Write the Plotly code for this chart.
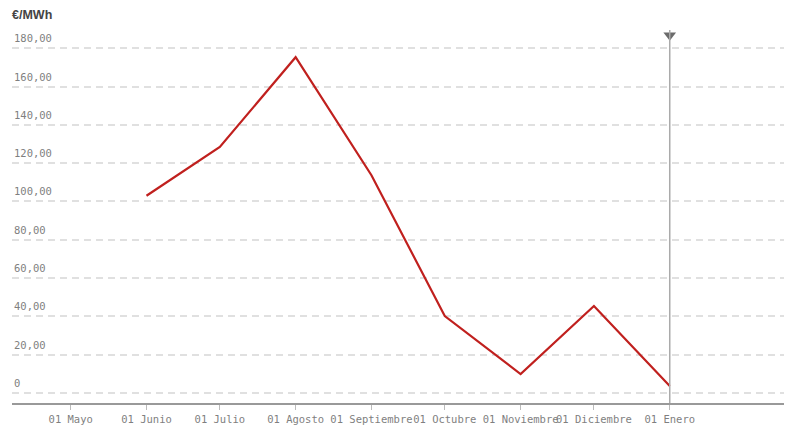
import plotly.graph_objects as go

# precio mensual (€/MWh)
fechas = ["2022-06-01", "2022-07-01", "2022-08-01", "2022-09-01",
          "2022-10-01", "2022-11-01", "2022-12-01", "2023-01-01"]
precios = [103.0, 128.5, 175.3, 113.7, 40.2, 9.9, 45.4, 3.7]

meses_vals = ["2022-05-01", "2022-06-01", "2022-07-01", "2022-08-01", "2022-09-01",
              "2022-10-01", "2022-11-01", "2022-12-01", "2023-01-01"]
meses_text = ["01 Mayo", "01 Junio", "01 Julio", "01 Agosto", "01 Septiembre",
              "01 Octubre", "01 Noviembre", "01 Diciembre", "01 Enero"]

y_vals = [0, 20, 40, 60, 80, 100, 120, 140, 160, 180]
y_text = ["0"] + [f"{v:.2f}".replace(".", ",") for v in y_vals[1:]]

marca_fecha = "2023-01-01"
y_top = 189.5

# la página añade 8px de margen al body, así que la figura se reduce
W, H = 784, 417
MONO = "DejaVu Sans Mono"

fig = go.Figure()

fig.add_trace(go.Scatter(
    x=fechas, y=precios, mode="lines",
    line=dict(color="#c0201e", width=2.2),
    hoverinfo="skip",
))

fig.add_shape(
    type="line", xref="x", yref="paper",
    x0=marca_fecha, x1=marca_fecha, y0=0, y1=1,
    line=dict(color="#aaaaaa", width=1.5),
)
fig.add_trace(go.Scatter(
    x=[marca_fecha], y=[186.8], mode="markers",
    marker=dict(symbol="triangle-down", size=11, color="#6b6b6b"),
    hoverinfo="skip",
))

# etiquetas del eje y encima de cada línea de rejilla
for v, t in zip(y_vals, y_text):
    fig.add_annotation(
        x=0, xref="paper", xanchor="left",
        y=v, yref="y", yanchor="bottom", yshift=2,
        text=t, showarrow=False,
        font=dict(family=MONO, size=10.5, color="#7f7f7f"),
    )

fig.update_layout(
    width=W, height=H,
    margin=dict(l=4, r=0, t=22, b=22),
    plot_bgcolor="white", paper_bgcolor="white",
    showlegend=False,
    font=dict(family=MONO, size=10.5, color="#7f7f7f"),
    title=dict(
        text="<b>€/MWh</b>", xref="container", yref="container",
        x=4 / W, xanchor="left", y=1 - 7 / H, yanchor="middle",
        font=dict(family="Liberation Sans", size=12.5, color="#444444"),
    ),
    xaxis=dict(
        type="date", range=["2022-04-07", "2023-02-20"],
        tickvals=meses_vals, ticktext=meses_text, tickangle=0,
        automargin=False,
        showgrid=False, zeroline=False,
        showline=True, linecolor="#999999", linewidth=2,
        ticks="outside", ticklen=5, tickcolor="#bbbbbb",
    ),
    yaxis=dict(
        range=[-5.2, y_top], automargin=False,
        tickvals=y_vals, showticklabels=False,
        showgrid=True, gridcolor="#e0e0e0", griddash="7px,5px", gridwidth=1.5,
        zeroline=False, showline=False, ticks="",
    ),
)

fig.write_html("out.html")
